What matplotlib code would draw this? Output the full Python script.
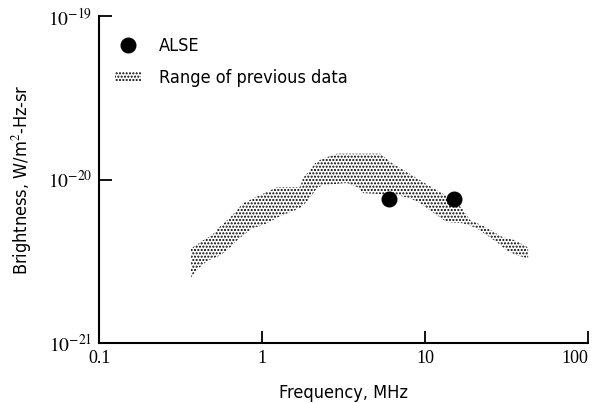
import matplotlib
matplotlib.use("Agg")

import matplotlib.pyplot as plt
from matplotlib.lines import Line2D
from matplotlib.patches import Patch

plt.rcParams["mathtext.fontset"] = "stix"
plt.rcParams["hatch.linewidth"] = 1.0

# ALSE measurements
alse_freq = [6.0, 15.1]
alse_bright = [7.6e-21, 7.6e-21]

# range of previous data, upper edge
upper_freq = [0.366, 0.435, 0.493, 0.537, 0.610, 0.683, 0.765, 0.972, 1.236, 1.71,
              1.78, 1.92, 2.12, 2.33, 2.88, 5.30, 6.28, 7.87, 10.4, 13.3,
              16.9, 18.9, 22.4, 30.1, 35.6, 42.9]
upper_bright = [3.79e-21, 4.25e-21, 4.56e-21, 5.03e-21, 5.63e-21, 6.31e-21, 7.17e-21,
                8.03e-21, 8.99e-21, 8.99e-21, 1.02e-20, 1.11e-20, 1.26e-20, 1.34e-20,
                1.44e-20, 1.44e-20, 1.26e-20, 1.10e-20, 9.25e-21, 8.03e-21, 6.68e-21,
                5.63e-21, 5.25e-21, 4.43e-21, 4.25e-21, 3.84e-21]

# lower edge
lower_freq = [0.366, 0.405, 0.466, 0.553, 0.636, 0.703, 0.869, 1.01, 1.29, 1.71,
              1.92, 2.17, 2.37, 3.32, 3.83, 4.17, 6.73, 8.09, 9.31, 10.7,
              13.6, 17.1, 20.8, 27.7, 31.8, 36.7, 42.9]
lower_bright = [2.51e-21, 2.85e-21, 3.20e-21, 3.43e-21, 3.84e-21, 4.25e-21, 5.03e-21,
                5.25e-21, 5.96e-21, 6.68e-21, 7.48e-21, 8.87e-21, 9.25e-21, 9.52e-21,
                8.99e-21, 8.26e-21, 8.03e-21, 7.69e-21, 7.17e-21, 6.49e-21, 5.48e-21,
                5.40e-21, 5.03e-21, 4.12e-21, 3.68e-21, 3.43e-21, 3.29e-21]

x_ticks = [0.1, 1, 10, 100]
x_labels = ["0.1", "1", "10", "100"]
y_ticks = [1e-21, 1e-20, 1e-19]
y_labels = ["$10^{-21}$", "$10^{-20}$", "$10^{-19}$"]

label_font = {"family": "DejaVu Sans", "stretch": "condensed", "size": 13}

fig = plt.figure(figsize=(5.97, 4.03), dpi=100)
ax = fig.add_axes([0.166, 0.149, 0.819, 0.811])

band_x = upper_freq + lower_freq[::-1]
band_y = upper_bright + lower_bright[::-1]
ax.fill(band_x, band_y, facecolor="white", edgecolor="black",
        hatch=".....", linewidth=0)

ax.plot(alse_freq, alse_bright, "o", color="black", markersize=10.5)

ax.set_xscale("log")
ax.set_yscale("log")
ax.set_xlim(0.1, 100)
ax.set_ylim(1e-21, 1e-19)

ax.set_xticks(x_ticks)
ax.set_xticklabels(x_labels, fontfamily="Liberation Serif", fontsize=13)
ax.get_xticklabels()[-1].set_horizontalalignment("right")
ax.set_yticks(y_ticks)
ax.set_yticklabels(y_labels, fontsize=14)
ax.minorticks_off()
ax.tick_params(direction="in", length=9, width=1.3, pad=5)

ax.spines["top"].set_visible(False)
ax.spines["right"].set_visible(False)
ax.spines["left"].set_linewidth(1.5)
ax.spines["bottom"].set_linewidth(1.5)

ax.set_xlabel("Frequency, MHz", fontdict=label_font, labelpad=12)
ax.set_ylabel("Brightness, W/m$^2$-Hz-sr", fontdict=label_font, labelpad=10)

handles = [
    Line2D([], [], marker="o", linestyle="none", color="black", markersize=10.5),
    Patch(facecolor="white", edgecolor="black", hatch=".....", linewidth=0),
]
ax.legend(handles, ["ALSE", "Range of previous data"], loc="upper left",
          bbox_to_anchor=(0.0, 0.985), frameon=False, handlelength=1.4,
          handleheight=0.6, handletextpad=1.0, labelspacing=0.75,
          prop=label_font)

fig.savefig("out.png", dpi=100)
